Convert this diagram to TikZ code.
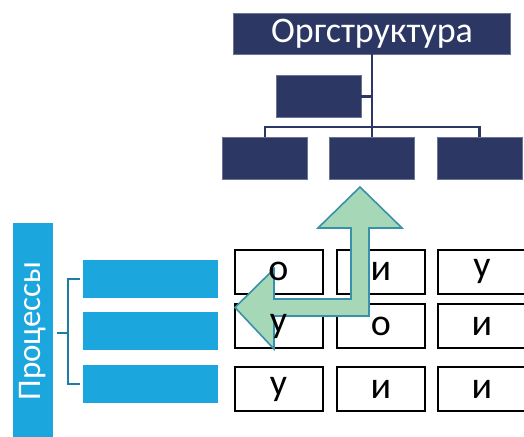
\documentclass[tikz,border=0pt]{standalone}
\usepackage{fontspec}
\setmainfont{Carlito}
\usetikzlibrary{positioning}

\definecolor{navy}{RGB}{44,55,100}
\definecolor{procblue}{RGB}{28,166,222}
\definecolor{arrowfill}{RGB}{166,216,184}
\definecolor{arrowline}{RGB}{55,145,170}
\definecolor{bracketline}{RGB}{30,125,165}

\begin{document}
\begin{tikzpicture}
  [
      x=1pt, y=-1pt,
      org/.style={rectangle, fill=navy, draw=navy!70, minimum width=85pt, minimum height=42pt, inner sep=0pt},
      proc/.style={rectangle, fill=procblue, minimum width=135pt, minimum height=38pt, inner sep=0pt},
      cell/.style={rectangle, draw=black, line width=2pt, fill=white, minimum width=88pt, minimum height=44pt, inner sep=0pt},
      letter/.style={font=\fontsize{38}{38}\selectfont, text=black},
      orgline/.style={draw=navy, line width=2.2pt},
      bracket/.style={draw=bracketline, line width=2.2pt},
    ]
    \useasboundingbox (0,0) rectangle (524,436);

    % org chart
    \node (title) [org, minimum width=277pt, minimum height=41pt, text=white,
      font=\fontsize{36}{36}\selectfont] at (372,33.5) {Оргструктура};
    \node (sub) [org] at (318.5,96.5) {};
    \node (o1) [org] at (265,158.5) {};
    \node (o2) [org] at (372,158.5) {};
    \node (o3) [org] at (479.5,158.5) {};
    \coordinate (hub) at (372,127);

    \draw [orgline] (title) -- (hub);
    \draw [orgline] (sub.east) -- (sub.east -| hub);
    \draw [orgline] (o1.north) |- (hub) -| (o3.north);
    \draw [orgline] (hub) -- (o2.north);

    % processes
    \node (procs) [rectangle, fill=procblue, minimum width=216pt, minimum height=40pt, inner sep=0pt,
      rotate=90, text=white, font=\fontsize{33}{33}\selectfont] at (33,331) {Процессы};
    \node (p1) [proc] at (150.5,279) {};
    \node (p2) [proc, below=14pt of p1] {};
    \node (p3) [proc, below=14pt of p2] {};
    \coordinate (brk) at (68,333);
    \coordinate (tick) at (57,333);

    \draw [bracket] (p1.west) ++(-3,0) -- ++(-12,0) |- ([xshift=-3pt]p3.west);
    \draw [bracket] (tick) -- (brk);

    % matrix of cells
    \foreach \r/\y in {1/271.5, 2/326, 3/389}
      \foreach \c/\x in {1/278.5, 2/381, 3/482}
        \node (c\r\c) [cell] at (\x,\y) {};

    % bent arrow
    \draw [fill=arrowfill, draw=arrowline, line width=1.6pt, line join=miter]
      (360,187) -- (402,228) -- (369,228) -- (369,316) -- (274,316) -- (274,349)
      -- (235,307.5) -- (274,269) -- (274,299) -- (351,299) -- (351,228) -- (318,228) -- cycle;

    % letters
    \foreach \r/\c/\t in {1/1/о, 1/2/и, 1/3/у, 2/1/у, 2/2/о, 2/3/и, 3/1/у, 3/2/и, 3/3/и}
      \node (t\r\c) [letter] at (c\r\c) {\t};

  \end{tikzpicture}
\end{document}
